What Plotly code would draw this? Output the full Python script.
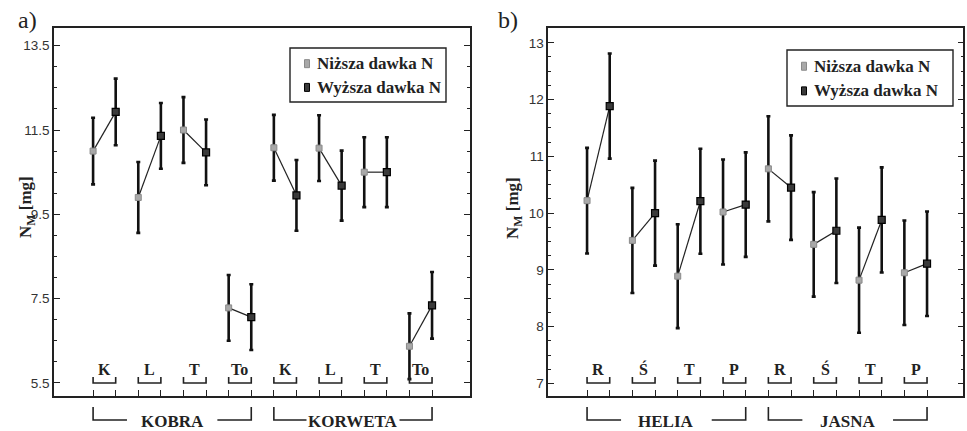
import plotly.graph_objects as go

# ---------------- data ----------------
# panel a)
a_groups = ["KOBRA", "KORWETA"]
a_treat = ["K", "L", "T", "To"]
a_low = [11.00, 9.90, 11.50, 7.28, 11.08, 11.07, 10.50, 6.37]
a_high = [11.93, 11.36, 10.97, 7.06, 9.95, 10.18, 10.50, 7.34]
a_err_low = [0.79, 0.84, 0.78, 0.78, 0.78, 0.78, 0.83, 0.78]
a_err_high = [0.79, 0.78, 0.78, 0.78, 0.84, 0.83, 0.83, 0.79]
a_yticks = [5.5, 7.5, 9.5, 11.5, 13.5]

# panel b)
b_groups = ["HELIA", "JASNA"]
b_treat = ["R", "Ś", "T", "P"]
b_low = [10.22, 9.52, 8.89, 10.02, 10.78, 9.45, 8.82, 8.95]
b_high = [11.885, 10.00, 10.21, 10.15, 10.45, 9.69, 9.88, 9.11]
b_err_low = [0.93, 0.925, 0.915, 0.925, 0.925, 0.92, 0.925, 0.92]
b_err_high = [0.925, 0.925, 0.925, 0.92, 0.92, 0.92, 0.925, 0.92]
b_yticks = [7, 8, 9, 10, 11, 12, 13]

legend_low = "Niższa dawka N"
legend_high = "Wyższa dawka N"
ytitle = "N<sub>M</sub> [mg]"

W, H = 967, 431
SERIF = "'Liberation Serif', 'Times New Roman', 'DejaVu Serif', serif"
SANS = "'Liberation Sans', Arial, 'DejaVu Sans', sans-serif"


def px(xp):
    return xp / W


def py(yp):
    return 1 - yp / H


fig = go.Figure()

panels = [
    dict(low=a_low, high=a_high, el=a_err_low, eh=a_err_high, groups=a_groups, treat=a_treat,
         xa="x", ya="y", xtop="x2", xref="x", dom=(54, 470), xr=[-1.73, 16.68], yr=[5.19, 13.92],
         yticks=a_yticks, fmt=".1f", minor=0.5, label="a)", lab_x=16, title_x=14, title_y=207,
         legend_box=(290, 48, 446, 102)),
    dict(low=b_low, high=b_high, el=b_err_low, eh=b_err_high, groups=b_groups, treat=b_treat,
         xa="x3", ya="y2", xtop="x4", xref="x3", dom=(548.3, 963.3), xr=[-1.71, 16.6], yr=[6.78, 13.26],
         yticks=b_yticks, fmt="d", minor=0.25, label="b)", lab_x=496, title_x=514, title_y=208,
         legend_box=(787, 50, 953, 106)),
]

shapes = []
annotations = []
layout_axes = {}

for i, p in enumerate(panels):
    n = len(p["low"])
    xl = [2 * k for k in range(n)]
    xh = [2 * k + 1 for k in range(n)]
    # connecting lines for each pair
    lx, ly = [], []
    for k in range(n):
        lx += [xl[k], xh[k], None]
        ly += [p["low"][k], p["high"][k], None]
    fig.add_trace(go.Scatter(x=lx, y=ly, mode="lines", line=dict(color="#222", width=1.2),
                             xaxis=p["xa"], yaxis=p["ya"], showlegend=False, hoverinfo="skip"))
    fig.add_trace(go.Scatter(x=xl, y=p["low"], mode="markers", name=legend_low,
                             marker=dict(symbol="square", size=6, color="#a8a8a8",
                                         line=dict(color="#8a8a8a", width=1)),
                             error_y=dict(type="data", array=p["el"], color="#111", thickness=2.6, width=2),
                             xaxis=p["xa"], yaxis=p["ya"], showlegend=False))
    fig.add_trace(go.Scatter(x=xh, y=p["high"], mode="markers", name=legend_high,
                             marker=dict(symbol="square", size=7, color="#3a3a3a",
                                         line=dict(color="#000", width=1.2)),
                             error_y=dict(type="data", array=p["eh"], color="#111", thickness=2.6, width=2),
                             xaxis=p["xa"], yaxis=p["ya"], showlegend=False))

    d0, d1 = px(p["dom"][0]), px(p["dom"][1])
    xkey = "xaxis" if p["xa"] == "x" else "xaxis" + p["xa"][1:]
    xtopkey = "xaxis" + p["xtop"][1:]
    ykey = "yaxis" if p["ya"] == "y" else "yaxis" + p["ya"][1:]
    layout_axes[xkey] = dict(domain=[d0, d1], range=p["xr"], anchor=p["ya"], showgrid=False,
                             zeroline=False, showline=True, linecolor="#222", linewidth=1.6,
                             mirror=True, ticks="inside", ticklen=6, tickwidth=1.2, tickcolor="#222",
                             tickvals=list(range(2 * n)), showticklabels=False)
    layout_axes[xtopkey] = dict(overlaying=p["xa"], matches=p["xa"], anchor=p["ya"], side="top",
                                range=p["xr"], showgrid=False, zeroline=False, showline=False,
                                ticks="inside", ticklen=5, tickwidth=1.2, tickcolor="#222",
                                tickvals=list(range(-1, 2 * n + 1)), showticklabels=False)
    layout_axes[ykey] = dict(domain=[py(396), py(28)], range=p["yr"], anchor=p["xa"], showgrid=False,
                             zeroline=False, showline=True, linecolor="#222", linewidth=1.6,
                             mirror="allticks", ticks="inside", ticklen=6, tickwidth=1.2, tickcolor="#222",
                             tickvals=p["yticks"], tickformat=p["fmt"],
                             tickfont=dict(family=SANS, size=13.5, color="#333"),
                             minor=dict(dtick=p["minor"], ticks="inside", ticklen=3, tickwidth=1, tickcolor="#222",
                                        tick0=p["yticks"][0]))

    # inner treatment brackets
    yb = py(383)
    yt = py(377)
    for k in range(n):
        a, b = xl[k], xh[k]
        shapes.append(dict(type="path", xref=p["xref"], yref="paper",
                           path=f"M {a},{yt} L {a},{yb} L {b},{yb} L {b},{yt}",
                           line=dict(color="#222", width=1.6)))
        annotations.append(dict(x=(a + b) / 2, y=py(380), xref=p["xref"], yref="paper",
                                text=f"<b>{p['treat'][k % len(p['treat'])]}</b>", showarrow=False,
                                yanchor="bottom", font=dict(family=SERIF, size=16, color="#222"),
                                ))
    # group brackets below axis
    per = len(p["treat"])
    for g, name in enumerate(p["groups"]):
        a = xl[g * per]
        b = xh[g * per + per - 1]
        c = (a + b) / 2
        y1 = py(407)
        y2 = py(420)
        gap = 2.0
        shapes.append(dict(type="path", xref=p["xref"], yref="paper",
                           path=f"M {a},{y1} L {a},{y2} L {c - gap},{y2}",
                           line=dict(color="#222", width=1.6)))
        shapes.append(dict(type="path", xref=p["xref"], yref="paper",
                           path=f"M {c + gap},{y2} L {b},{y2} L {b},{y1}",
                           line=dict(color="#222", width=1.6)))
        annotations.append(dict(x=c, y=py(421), xref=p["xref"], yref="paper", text=f"<b>{name}</b>",
                                showarrow=False, yanchor="middle", bgcolor="white",
                                font=dict(family=SERIF, size=17, color="#222")))

    # panel label
    annotations.append(dict(x=px(p["lab_x"]), y=py(20), xref="paper", yref="paper", text=p["label"],
                            showarrow=False, xanchor="left", yanchor="middle",
                            font=dict(family=SERIF, size=24, color="#222")))
    # y title
    annotations.append(dict(x=px(p["title_x"]), y=py(p["title_y"]), xref="paper", yref="paper",
                            text=f"<b>{ytitle}</b>", textangle=-90, showarrow=False,
                            font=dict(family=SERIF, size=17, color="#222")))
    # legend box
    x0, y0, x1, y1 = p["legend_box"]
    shapes.append(dict(type="rect", xref="paper", yref="paper", x0=px(x0), x1=px(x1), y0=py(y0), y1=py(y1),
                       line=dict(color="#222", width=1.4), fillcolor="white", layer="above"))
    rows = [(legend_low, "#a8a8a8", "#8a8a8a"), (legend_high, "#3a3a3a", "#000")]
    for r, (txt, fc, lc) in enumerate(rows):
        cy = y0 + (y1 - y0) * (0.29 + 0.44 * r)
        mx = x0 + 17
        shapes.append(dict(type="rect", xref="paper", yref="paper", x0=px(mx - 2.5), x1=px(mx + 2.5),
                           y0=py(cy - 4), y1=py(cy + 4), line=dict(color=lc, width=1), fillcolor=fc,
                           layer="above"))
        annotations.append(dict(x=px(x0 + 25), y=py(cy), xref="paper", yref="paper", text=f"<b>{txt}</b>",
                                showarrow=False, xanchor="left", yanchor="middle",
                                font=dict(family=SERIF, size=17, color="#222")))

fig.update_layout(width=W, height=H, margin=dict(l=0, r=0, t=0, b=0),
                  paper_bgcolor="white", plot_bgcolor="white", showlegend=False,
                  shapes=shapes, annotations=annotations, **layout_axes)

fig.write_html("out.html", config={"displayModeBar": False},
               post_script="document.body.style.margin='0px';document.body.style.padding='0px';"
                           "document.documentElement.style.overflow='hidden';")
